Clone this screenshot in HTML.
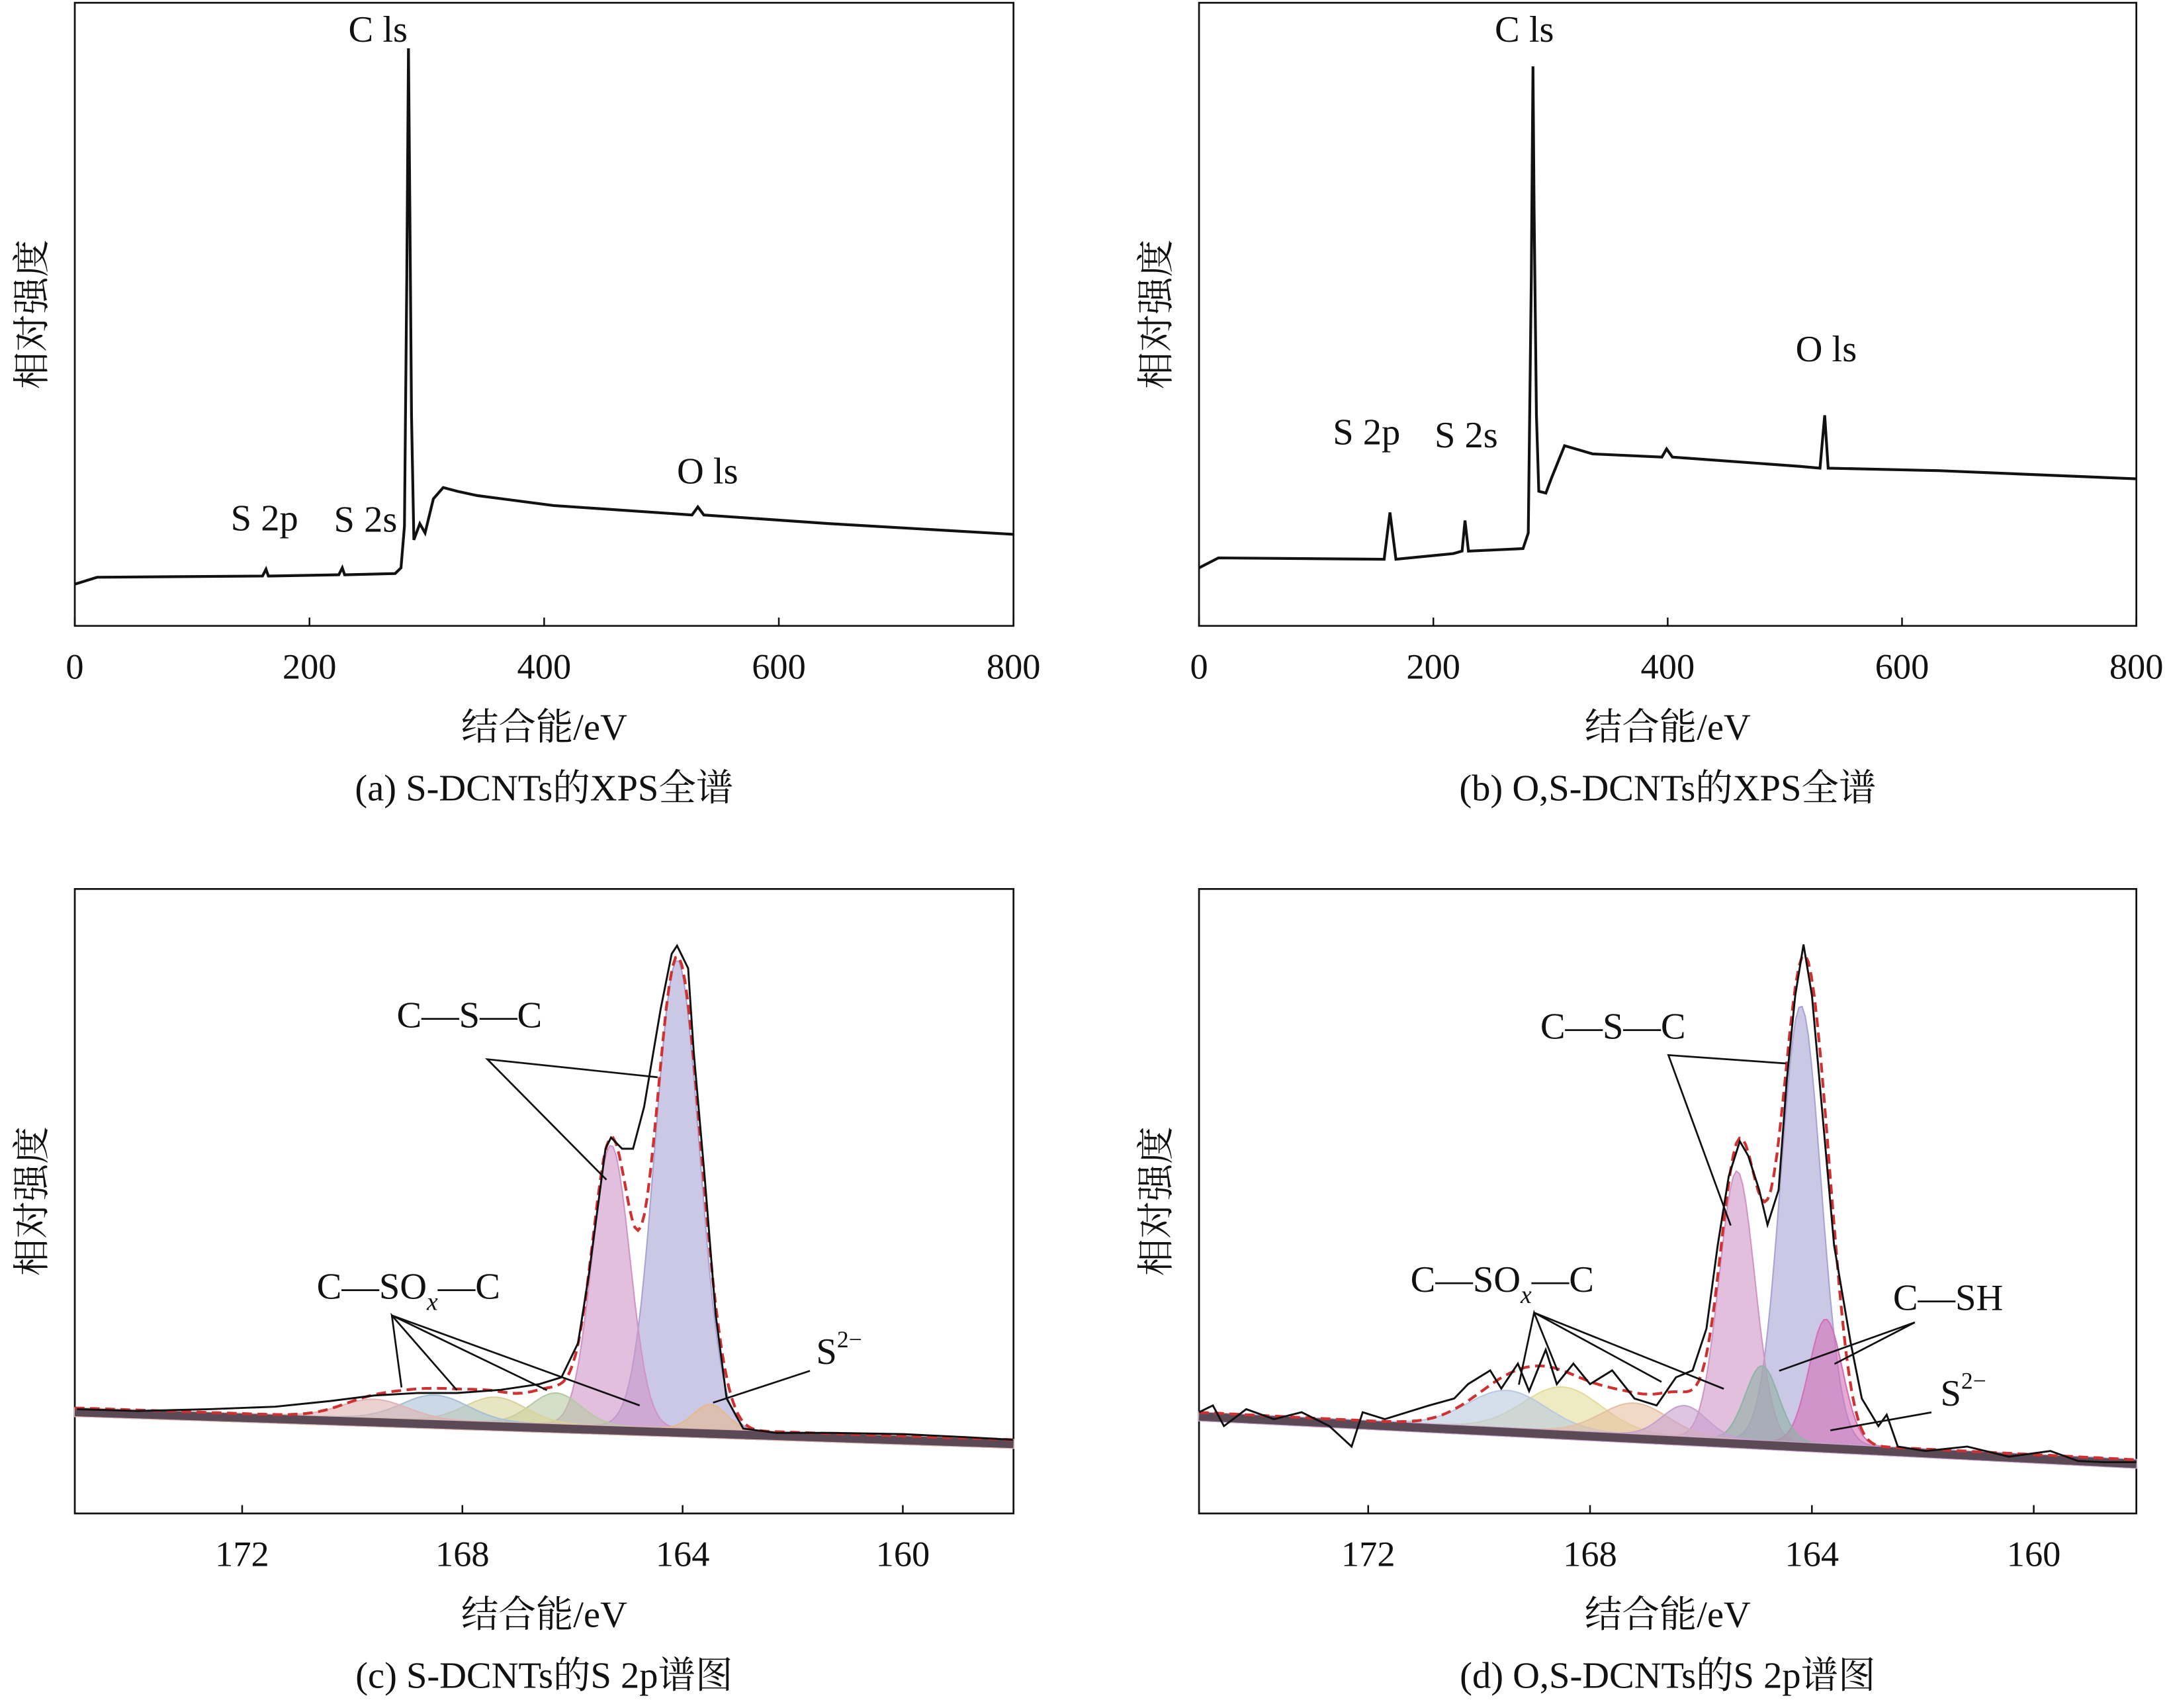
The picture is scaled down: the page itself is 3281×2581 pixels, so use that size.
<!DOCTYPE html>
<html><head><meta charset="utf-8"><style>
html,body{margin:0;padding:0;background:#fff;}
svg{display:block;}
text{font-family:"Liberation Serif","Noto Serif CJK SC","Noto Sans CJK SC",serif;fill:#111;}
</style></head><body>
<svg id="fig" width="3281" height="2581" viewBox="0 0 1568 1233.5" xmlns="http://www.w3.org/2000/svg"></svg>
<script>
// ---------- data ----------
const surveyTicks = [0,200,400,600,800];
const s2pTicks = [172,168,164,160];
// panel a survey (eV, intensity)
const aEnergy = [0,19,160,163,165,225,228,230,273,278,281,283,284.4,285.6,287,289,294,298.5,305.6,314,326,343,408,526,531,536,644,800];
const aInt = [6.7,7.8,8.0,9.1,8.0,8.2,9.3,8.2,8.4,9.3,16.0,56,92.7,67,33.8,13.8,16.4,14.9,20.4,22.2,21.6,20.9,19.3,17.8,19.1,17.8,16.4,14.7];
// panel b survey
const bEnergy = [0,16.5,158,163,168,217,224.5,227,230,276.5,281,283.6,285,286,288,290,296,301,312,336,395,399,404,513,530,534,537,631,800];
const bInt = [9.3,10.9,10.7,18.2,10.7,11.6,12.0,16.9,12.0,12.4,14.9,56,89.8,67,33.8,21.6,21.3,23.8,28.9,27.6,27.1,28.4,27.1,25.6,25.3,33.8,25.3,24.9,23.6];
// panel c raw
const cEnergy = [175.0,173.9,172.6,171.4,170.4,169.6,168.8,168.1,167.3,166.6,166.2,165.9,165.7,165.4,165.3,165.1,164.9,164.7,164.4,164.2,164.1,163.9,163.8,163.6,163.4,163.2,162.9,162.3,161.3,160.0,158.8,158.0];
const cInt = [16.7,16.4,16.7,17.1,18.0,18.9,19.3,19.3,19.8,20.7,21.8,27.3,38.4,58.4,60.2,58.4,58.4,65.1,80.7,89.6,90.9,87.3,74.0,54.0,31.8,18.4,13.6,12.9,12.9,12.7,12.2,11.8];
// panel c components
const cCenters = [164.1,165.3,163.5,166.3,167.4,168.5,169.6];
const cHeights = [75,45,4,5,4,4,3];
const cSigmas = [0.4,0.34,0.3,0.45,0.55,0.6,0.6];
const cBg = [16.9,11.8]; // at 175, 158
// panel d raw
const dEnergy = [175.05,174.8,174.6,174.2,173.7,173.2,172.7,172.3,172.1,171.7,170.9,170.45,170.2,169.8,169.6,169.3,169.1,168.8,168.6,168.3,168.0,167.6,167.2,166.8,166.45,166.15,165.9,165.7,165.5,165.3,165.15,164.95,164.8,164.6,164.45,164.3,164.15,164.0,163.8,163.6,163.3,163.1,162.8,162.65,162.45,161.95,161.2,160.45,159.7,159.2,158.7,158.15];
const dInt = [16.2,17.3,14.0,16.7,15.1,16.2,14.0,10.7,16.2,15.1,17.3,18.4,20.7,22.9,20.0,24.0,19.6,26.2,20.7,24.0,20.7,22.9,18.4,17.3,21.8,22.9,29.6,42.9,54.0,59.6,57.3,51.8,46.2,51.8,69.6,82.9,91.1,82.9,62.9,42.9,27.3,18.4,14.0,15.8,10.7,10.0,10.7,9.1,10.0,8.4,8.2,8.2];
const dCenters = [164.2,165.35,163.75,164.9,168.5,169.5,167.2,166.3];
const dHeights = [70,43,20,12,7,6,5,5];
const dSigmas = [0.36,0.32,0.3,0.3,0.7,0.7,0.6,0.4];
const dBg = [16.2,8.6];

const compColors = ['#a9a3d3','#cf95c6','#e6b98c','#b7c9a4','#d9d39a','#a7bfd4','#e0b3b3','#c8a0d0'];
const dColors = ['#a9a3d3','#cf95c6','#d46fb8','#8fb3a5','#e3dc9a','#b9c9e0','#e6c0a0','#c8a0d0'];

// ---------- helpers ----------
const svg = document.getElementById('fig');
const NS = 'http://www.w3.org/2000/svg';
function mk(tag, attrs, parent){const e=document.createElementNS(NS,tag);for(const k in attrs)e.setAttribute(k,attrs[k]);(parent||svg).appendChild(e);return e;}
function txt(x,y,s,size,anchor,parent){const t=mk('text',{x:x,y:y,'font-size':size,'text-anchor':anchor||'middle'},parent);t.textContent=s;return t;}

function panel(opt){
  const g = mk('g',{});
  
  
  const {x0,x1,y0,y1,e0,e1} = opt;
  const X = e => x0 + (e-e0)/(e1-e0)*(x1-x0);
  const Y = v => y1 - v*(y1-y0)/100;
  const box = mk('rect',{x:x0,y:y0,width:x1-x0,height:y1-y0,fill:'none',stroke:'#111','stroke-width':1.3},g);
  
  
  opt.ticks.forEach(t=>{
    const tk = mk('line',{x1:X(t),x2:X(t),y1:y1,y2:y1-6,stroke:'#111','stroke-width':1.2},g);
    
    
    const tl = txt(X(t), y1+38, String(t), 26, 'middle', g);
    
    
  });
  const xl = txt((x0+x1)/2, y1+82, '结合能/eV', 27, 'middle', g);
  
  
  const cap = txt((x0+x1)/2, y1+126, opt.caption, 27, 'middle', g);
  
  
  const yl = txt(0,0,'相对强度',27,'middle',g);
  yl.setAttribute('transform',`translate(${x0-22},${(y0+y1)/2}) rotate(-90)`);
  
  
  return {g,X,Y};
}

function drawLine(p, E, I, attrs, name){
  const d = E.map((e,i)=>(i?'L':'M')+p.X(e).toFixed(1)+','+p.Y(I[i]).toFixed(1)).join('');
  const path = mk('path',Object.assign({d:d,fill:'none'},attrs),p.g);
  
  
  return path;
}

function fitPanel(p, E0, E1, bg, centers, heights, sigmas, colors){
  const bgAt = e => bg[0] + (e-E0)/(E1-E0)*(bg[1]-bg[0]);
  const N = 300;
  const es = []; for(let i=0;i<=N;i++) es.push(E0+(E1-E0)*i/N);
  centers.forEach((c,k)=>{
    let d='';
    es.forEach((e,i)=>{const v=bgAt(e)+heights[k]*Math.exp(-0.5*((e-c)/sigmas[k])**2);d+=(i?'L':'M')+p.X(e).toFixed(1)+','+p.Y(v).toFixed(1);});
    for(let i=N;i>=0;i--){d+='L'+p.X(es[i]).toFixed(1)+','+(p.Y(bgAt(es[i]))+6).toFixed(1);}
    const path = mk('path',{d:d+'Z',fill:colors[k%colors.length],'fill-opacity':0.6,stroke:colors[k%colors.length],'stroke-width':1},p.g);
    
    
  });
  const band = mk('line',{x1:p.X(E0),y1:p.Y(bgAt(E0))+3,x2:p.X(E1),y2:p.Y(bgAt(E1))+3,stroke:'#5b4a55','stroke-width':6},p.g);
  
  
  const env = es.map(e=>bgAt(e)+centers.reduce((s,c,k)=>s+heights[k]*Math.exp(-0.5*((e-c)/sigmas[k])**2),0));
  return {es,env};
}

function label(p, x, y, s, size){const t=txt(x,y,s,size||27,'middle',p.g);return t;}
function leader(p, pts){const l=mk('polyline',{points:pts,fill:'none',stroke:'#111','stroke-width':1.3},p.g);}

// ---------- panel a ----------
const pa = panel({name:'panel-a',x0:54,x1:732,y0:2,y1:452,e0:0,e1:800,ticks:surveyTicks,caption:'(a) S-DCNTs的XPS全谱'});
drawLine(pa,aEnergy,aInt,{stroke:'#111','stroke-width':2},'survey-spectrum');
label(pa,273,30,'C ls');label(pa,191,383,'S 2p');label(pa,264,384,'S 2s');label(pa,511,349,'O ls');

// ---------- panel b ----------
const pb = panel({name:'panel-b',x0:866,x1:1543,y0:2,y1:452,e0:0,e1:800,ticks:surveyTicks,caption:'(b) O,S-DCNTs的XPS全谱'});
drawLine(pb,bEnergy,bInt,{stroke:'#111','stroke-width':2},'survey-spectrum');
label(pb,1101,30,'C ls');label(pb,987,321,'S 2p');label(pb,1059,323,'S 2s');label(pb,1319,261,'O ls');

// ---------- panel c ----------
const pc = panel({name:'panel-c',x0:54,x1:732,y0:642,y1:1093,e0:175.04,e1:157.99,ticks:s2pTicks,caption:'(c) S-DCNTs的S 2p谱图'});
const fc = fitPanel(pc,175.04,157.99,cBg,cCenters,cHeights,cSigmas,compColors);
drawLine(pc,fc.es,fc.env,{stroke:'#d03030','stroke-width':2,'stroke-dasharray':'7,4'},'fit-envelope');
drawLine(pc,cEnergy,cInt,{stroke:'#111','stroke-width':1.4},'raw-spectrum');
label(pc,339,742,'C—S—C');
leader(pc,'475,778 352,765 438,852');
const tc=label(pc,295,938,'C—SO');tc.innerHTML='C—SO<tspan font-style="italic" font-size="18" dy="8">x</tspan><tspan dy="-8">—C</tspan>';
leader(pc,'290,1002 283,950 330,1004');leader(pc,'283,950 395,1004');leader(pc,'283,950 462,1015');
const sc=label(pc,606,985,'');sc.innerHTML='S<tspan font-size="17" dy="-12">2−</tspan>';
leader(pc,'585,990 515,1013');

// ---------- panel d ----------
const pd = panel({name:'panel-d',x0:866,x1:1543,y0:642,y1:1093,e0:175.05,e1:158.15,ticks:s2pTicks,caption:'(d) O,S-DCNTs的S 2p谱图'});
const fd = fitPanel(pd,175.05,158.15,dBg,dCenters,dHeights,dSigmas,dColors);
drawLine(pd,fd.es,fd.env,{stroke:'#d03030','stroke-width':2,'stroke-dasharray':'7,4'},'fit-envelope');
drawLine(pd,dEnergy,dInt,{stroke:'#111','stroke-width':1.4},'raw-spectrum');
label(pd,1165,750,'C—S—C');
leader(pd,'1290,768 1205,762 1250,885');
const td=label(pd,1085,933,'');td.innerHTML='C—SO<tspan font-style="italic" font-size="18" dy="8">x</tspan><tspan dy="-8">—C</tspan>';
leader(pd,'1097,1000 1108,948 1125,990');leader(pd,'1108,948 1200,998');leader(pd,'1108,948 1245,1003');
label(pd,1407,946,'C—SH');
leader(pd,'1285,990 1383,955 1325,985');
const sd=label(pd,1418,1015,'');sd.innerHTML='S<tspan font-size="17" dy="-12">2−</tspan>';
leader(pd,'1395,1020 1322,1033');
</script>
</body></html>
